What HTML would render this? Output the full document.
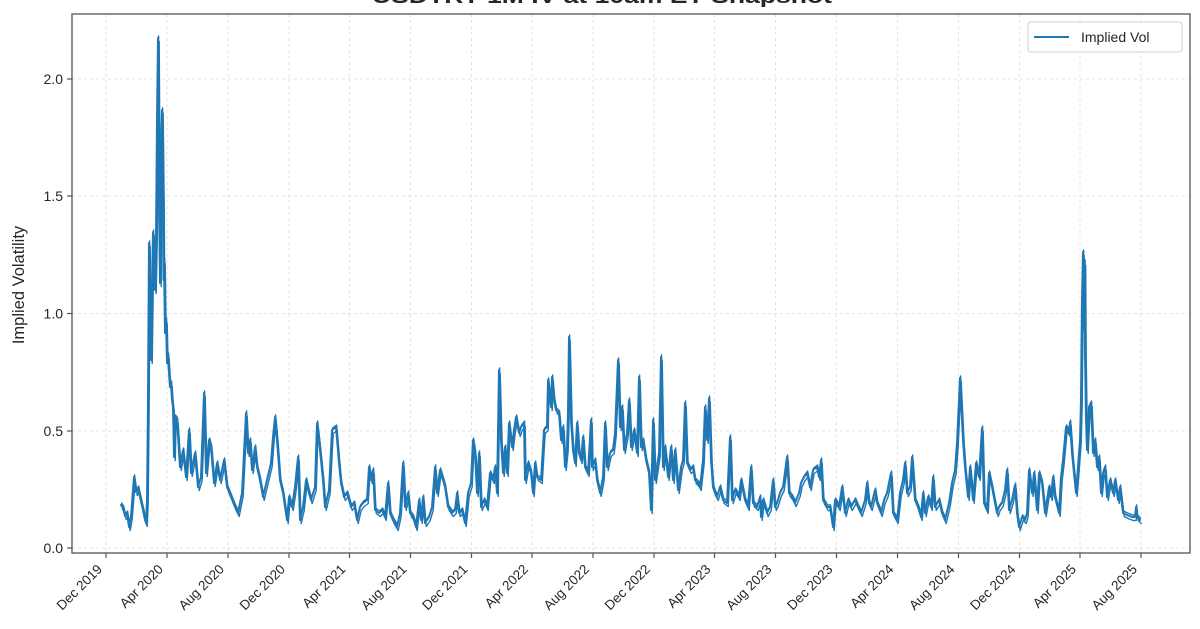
<!DOCTYPE html>
<html>
<head>
<meta charset="utf-8">
<style>
  html, body { margin: 0; padding: 0; background: #ffffff; }
  svg { display: block; }
  text { font-family: "Liberation Sans", "DejaVu Sans", sans-serif; fill: #262626; }
</style>
</head>
<body>
<svg width="1200" height="629" viewBox="0 0 1200 629" xmlns="http://www.w3.org/2000/svg">
  <defs>
    <polyline id="series" fill="none" stroke-linejoin="round" stroke-linecap="round" points="
121,505 123,508 125,516 127,513 129,527 131,516 133,490 134,477 136,492 138,488 140,497 143,510 145,520 146,523 147,500 148,400 149,243 150,330 151,360 152,290 153,232 154,280 155,290 156,240 157,120 158,38 159,200 160,283 161,150 162,110 163,200 163.5,280 164,260 165,333 166,320 167,363 168,355 169,373 170,387 171,383 172,400 173,407 174,457 175,417 177,420
180,467 183,450 186,477 189,430 191,473 195,453 198,487 201,477 204,393 206,473 209,440 211,447 214,483 217,463 220,480 224,460 227,487 231,497 235,507 238,513 242,493 244,453 246,413 248,453 250,440 252,470 255,447 257,467 260,480 263,497 267,480 271,463 273,437 275,417 277,440 280,480 283,493 287,520 289,497 292,507 295,487 298,457 300,520 303,507 306,480 309,493 311,500 315,487 317,423 320,450 323,480 325,507 329,490 332,430 336,427 339,463 341,483 344,497 347,493 351,507 354,503 357,520 360,507 363,503 367,500 369,467 371,480 373,470 375,510 379,513 382,510 385,517 388,483 390,513 393,520 397,527 400,513
403,463 405,507 408,493 410,513 413,517 416,527 419,500 421,520 423,497 425,523 429,517 432,507 435,467 437,493 440,470 443,480 445,487 448,507 452,513 455,510 457,493 459,513 462,510 465,523 468,493 471,483 473,440 475,453 477,493 479,453 481,507 484,500 487,507 490,473 493,480 495,467 497,493 499,370 501,440 503,473 505,447 507,473 509,423 512,447 514,430 516,417 519,433 521,427 524,423 525,480 528,463 531,473 533,493 535,463 537,477 541,480 544,430 547,427 548,380 551,407 552,377 554,400 556,410 559,413 561,440 563,427 565,467 567,447 568,413 569,337 571,420 573,450 575,463 577,423 579,453 581,460 583,437 585,467 588,473 591,420 592,467 595,460 597,480 600,493 603,477 605,423 607,467 610,453 613,450 615,433 618,360 620,427 622,407 624,450 627,433 629,400 631,447 634,430 637,453 639,377 641,447 643,440 646,460 649,473 651,510 653,420 655,480 657,467 659,453 661,357 663,467 665,447 668,477 671,447 673,480 675,450 678,490 681,467 683,460 685,403 687,463 690,470 693,467 695,480 698,483
700,487 703,460 705,407 707,440 709,398 711,460 713,487 715,493 717,497 720,487 723,500 727,503 730,437 732,500 735,490 739,497 741,480 745,500 748,507 751,467 753,503 757,507 760,497 761,517 763,500 767,513 770,507 773,480 775,507 777,503 780,493 783,487 787,457 789,493 792,497 795,503 799,493 801,483 804,477 807,473 810,487 813,470 817,467 819,477 821,460 823,500 827,507 830,507 833,527 835,500 839,507 842,487 845,513 848,500 851,507 855,500 858,507 861,513 865,500 867,483 869,503 871,507 875,490 877,503 881,513 884,500 887,493 891,473 893,513 897,520 900,493 903,480 905,463 907,493 910,487 912,457 915,500 918,507 921,517 923,493 925,513 928,497 931,507 933,477 935,507 939,500 942,513 945,520 949,503 952,483 955,470 957,443 960,378 963,440 965,467 968,497 970,467 973,500 976,463 979,477 982,428 984,503 987,510 989,473 992,487 995,503 997,513 999,507
1002,503 1005,490 1007,470 1009,510 1012,500 1015,485 1017,513 1019,527 1022,517 1025,520 1027,513 1029,470 1032,493 1034,473 1037,510 1039,473 1042,483 1045,513 1049,487 1051,497 1053,477 1055,497 1059,513 1061,477 1063,460 1066,427 1069,433 1070,422 1072,453 1074,473 1076,493 1078,467 1080,440 1081,400 1082,300 1083,252 1084,330 1084.5,262 1085,353 1086,420 1087,450 1089,407 1091,403 1093,453 1095,440 1097,467 1099,457 1101,493 1103,473 1105,467 1107,497 1110,480 1113,493 1115,480 1118,500 1120,487 1123,513 1127,515 1132,517 1135,517 1136,507 1137,517 1140,520"/>
  </defs>

  <rect x="0" y="0" width="1200" height="629" fill="#ffffff"/>

  <!-- Title (mostly cropped) -->
  <text x="602" y="3" text-anchor="middle" font-size="20" font-weight="bold" textLength="460" lengthAdjust="spacingAndGlyphs">USDTRY 1M IV at 10am ET Snapshot</text>

  <!-- Grid -->
  <g stroke="#dcdcdc" stroke-width="0.8" stroke-dasharray="3,3" fill="none">
    <line x1="106" y1="14" x2="106" y2="553"/>
    <line x1="167" y1="14" x2="167" y2="553"/>
    <line x1="228" y1="14" x2="228" y2="553"/>
    <line x1="289" y1="14" x2="289" y2="553"/>
    <line x1="349.5" y1="14" x2="349.5" y2="553"/>
    <line x1="410.5" y1="14" x2="410.5" y2="553"/>
    <line x1="471.5" y1="14" x2="471.5" y2="553"/>
    <line x1="532" y1="14" x2="532" y2="553"/>
    <line x1="593" y1="14" x2="593" y2="553"/>
    <line x1="654" y1="14" x2="654" y2="553"/>
    <line x1="714.5" y1="14" x2="714.5" y2="553"/>
    <line x1="775.5" y1="14" x2="775.5" y2="553"/>
    <line x1="836.5" y1="14" x2="836.5" y2="553"/>
    <line x1="897.5" y1="14" x2="897.5" y2="553"/>
    <line x1="958.5" y1="14" x2="958.5" y2="553"/>
    <line x1="1019.5" y1="14" x2="1019.5" y2="553"/>
    <line x1="1080" y1="14" x2="1080" y2="553"/>
    <line x1="1141" y1="14" x2="1141" y2="553"/>
    <line x1="72" y1="548" x2="1190" y2="548"/>
    <line x1="72" y1="431" x2="1190" y2="431"/>
    <line x1="72" y1="313.5" x2="1190" y2="313.5"/>
    <line x1="72" y1="196" x2="1190" y2="196"/>
    <line x1="72" y1="79" x2="1190" y2="79"/>
  </g>

  <!-- Data series (layered copies to mimic dense daily data) -->
  <use href="#series" stroke="#1f77b4" stroke-width="1.4" transform="translate(1.2,3.5)"/>
  <use href="#series" stroke="#1f77b4" stroke-width="1.4" transform="translate(0.6,-2)"/>
  <use href="#series" stroke="#1f77b4" stroke-width="2"/>

  <!-- Axes frame -->
  <rect x="72" y="14" width="1118" height="539" fill="none" stroke="#555555" stroke-width="1.3"/>

  <!-- Y ticks -->
  <g stroke="#555555" stroke-width="1.2">
    <line x1="67" y1="548" x2="72" y2="548"/>
    <line x1="67" y1="431" x2="72" y2="431"/>
    <line x1="67" y1="313.5" x2="72" y2="313.5"/>
    <line x1="67" y1="196" x2="72" y2="196"/>
    <line x1="67" y1="79" x2="72" y2="79"/>
  </g>
  <g font-size="14" text-anchor="end">
    <text x="63" y="553">0.0</text>
    <text x="63" y="436">0.5</text>
    <text x="63" y="318.5">1.0</text>
    <text x="63" y="201">1.5</text>
    <text x="63" y="84">2.0</text>
  </g>

  <!-- Y label -->
  <text transform="translate(24,285) rotate(-90)" text-anchor="middle" font-size="16.5">Implied Volatility</text>

  <!-- X ticks -->
  <g stroke="#555555" stroke-width="1.2">
    <line x1="106" y1="553" x2="106" y2="558"/>
    <line x1="167" y1="553" x2="167" y2="558"/>
    <line x1="228" y1="553" x2="228" y2="558"/>
    <line x1="289" y1="553" x2="289" y2="558"/>
    <line x1="349.5" y1="553" x2="349.5" y2="558"/>
    <line x1="410.5" y1="553" x2="410.5" y2="558"/>
    <line x1="471.5" y1="553" x2="471.5" y2="558"/>
    <line x1="532" y1="553" x2="532" y2="558"/>
    <line x1="593" y1="553" x2="593" y2="558"/>
    <line x1="654" y1="553" x2="654" y2="558"/>
    <line x1="714.5" y1="553" x2="714.5" y2="558"/>
    <line x1="775.5" y1="553" x2="775.5" y2="558"/>
    <line x1="836.5" y1="553" x2="836.5" y2="558"/>
    <line x1="897.5" y1="553" x2="897.5" y2="558"/>
    <line x1="958.5" y1="553" x2="958.5" y2="558"/>
    <line x1="1019.5" y1="553" x2="1019.5" y2="558"/>
    <line x1="1080" y1="553" x2="1080" y2="558"/>
    <line x1="1141" y1="553" x2="1141" y2="558"/>
  </g>
  <g font-size="13.5" text-anchor="end">
    <text transform="translate(103,570) rotate(-45)">Dec 2019</text>
    <text transform="translate(164,570) rotate(-45)">Apr 2020</text>
    <text transform="translate(225,570) rotate(-45)">Aug 2020</text>
    <text transform="translate(286,570) rotate(-45)">Dec 2020</text>
    <text transform="translate(346.5,570) rotate(-45)">Apr 2021</text>
    <text transform="translate(407.5,570) rotate(-45)">Aug 2021</text>
    <text transform="translate(468.5,570) rotate(-45)">Dec 2021</text>
    <text transform="translate(529,570) rotate(-45)">Apr 2022</text>
    <text transform="translate(590,570) rotate(-45)">Aug 2022</text>
    <text transform="translate(651,570) rotate(-45)">Dec 2022</text>
    <text transform="translate(711.5,570) rotate(-45)">Apr 2023</text>
    <text transform="translate(772.5,570) rotate(-45)">Aug 2023</text>
    <text transform="translate(833.5,570) rotate(-45)">Dec 2023</text>
    <text transform="translate(894.5,570) rotate(-45)">Apr 2024</text>
    <text transform="translate(955.5,570) rotate(-45)">Aug 2024</text>
    <text transform="translate(1016.5,570) rotate(-45)">Dec 2024</text>
    <text transform="translate(1077,570) rotate(-45)">Apr 2025</text>
    <text transform="translate(1138,570) rotate(-45)">Aug 2025</text>
  </g>

  <!-- Legend -->
  <rect x="1028" y="22" width="154" height="30" rx="3" ry="3" fill="#ffffff" fill-opacity="0.9" stroke="#d0d0d0" stroke-width="1"/>
  <line x1="1034" y1="37" x2="1069" y2="37" stroke="#1f77b4" stroke-width="2"/>
  <text x="1081" y="42" font-size="14">Implied Vol</text>
</svg>
</body>
</html>
